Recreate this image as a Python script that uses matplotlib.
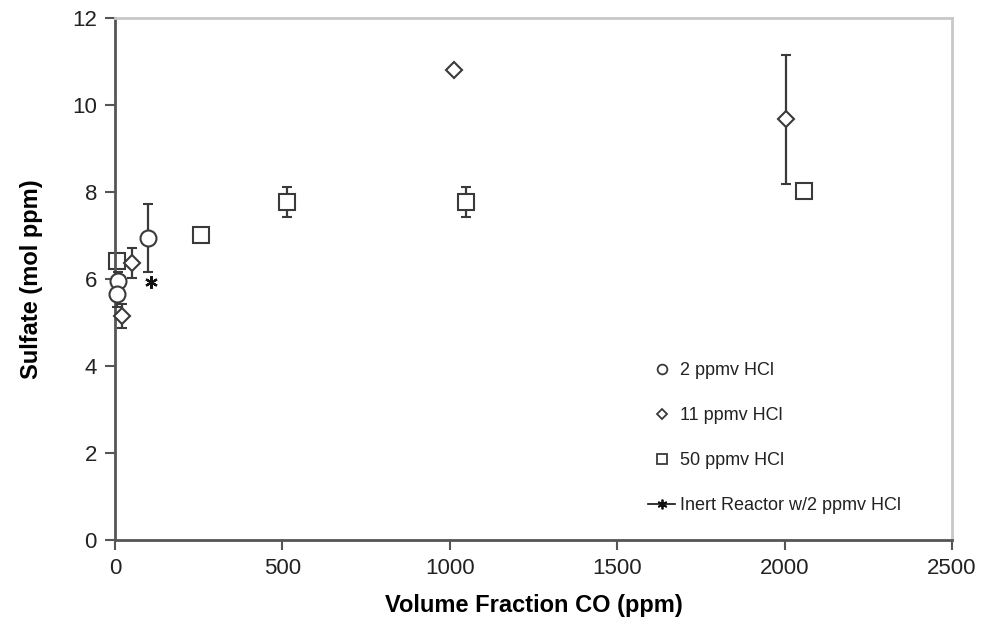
import matplotlib
matplotlib.use("Agg")
import matplotlib.pyplot as plt
from matplotlib.lines import Line2D

plt.rcParams['font.family'] = ['Liberation Sans', 'DejaVu Sans']

# Data
hcl2_x = [10, 5, 100]
hcl2_y = [5.95, 5.65, 6.95]
hcl2_err = [0.2, 0.3, 0.78]

hcl11_x = [22, 52, 1012, 2003]
hcl11_y = [5.15, 6.37, 10.8, 9.67]
hcl11_err = [0.28, 0.35, 0.0, 1.48]

hcl50_x = [5, 257, 514, 1047, 2058]
hcl50_y = [6.42, 7.02, 7.77, 7.77, 8.02]
hcl50_err = [0.0, 0.0, 0.35, 0.35, 0.0]

inert_x = [107]
inert_y = [5.92]

labels = ["2 ppmv HCl", "11 ppmv HCl", "50 ppmv HCl", "Inert Reactor w/2 ppmv HCl"]
x_ticks = [0, 500, 1000, 1500, 2000, 2500]
y_ticks = [0, 2, 4, 6, 8, 10, 12]

fig = plt.figure(figsize=(9.82, 6.2), dpi=100)
ax = fig.add_axes([115/982, 80/620, (952-115)/982, (540-18)/620])

ec = '#3a3a3a'
common = dict(linestyle='none', ecolor=ec, elinewidth=1.6, capsize=3.5, capthick=1.6,
              markerfacecolor='white', markeredgecolor=ec, markeredgewidth=1.5)


def unclip(container):
    for art in container.get_children():
        art.set_clip_on(False)


unclip(ax.errorbar(hcl2_x, hcl2_y, yerr=hcl2_err, marker='o', markersize=11.5, zorder=3, **common))
unclip(ax.errorbar(hcl11_x, hcl11_y, yerr=hcl11_err, marker='D', markersize=8, zorder=3, **common))
unclip(ax.errorbar(hcl50_x, hcl50_y, yerr=hcl50_err, marker='s', markersize=11.5, zorder=2, **common))
ax.plot(inert_x, inert_y, linestyle='none', marker=(6, 2, 0), markersize=9,
        markeredgecolor='#111111', markeredgewidth=1.6, zorder=4, clip_on=False)

ax.set_xlim(0, 2500)
ax.set_ylim(0, 12)
ax.set_xticks(x_ticks)
ax.set_yticks(y_ticks)
ax.tick_params(axis='both', direction='out', length=7, width=1.5, color='#555555',
               labelsize=16, labelcolor='#222222', pad=6)

for s in ['left', 'bottom']:
    ax.spines[s].set_color('#555555')
    ax.spines[s].set_linewidth(2)
for s in ['top', 'right']:
    ax.spines[s].set_color('#c8c8c8')
    ax.spines[s].set_linewidth(2)

ax.set_xlabel('Volume Fraction CO (ppm)', fontsize=17, fontweight='bold', labelpad=11)
ax.set_ylabel('Sulfate (mol ppm)', fontsize=17, fontweight='bold', labelpad=21)

handles = [
    Line2D([], [], linestyle='none', marker='o', markersize=7, markerfacecolor='white',
           markeredgecolor=ec, markeredgewidth=1.3),
    Line2D([], [], linestyle='none', marker='D', markersize=5, markerfacecolor='white',
           markeredgecolor=ec, markeredgewidth=1.3),
    Line2D([], [], linestyle='none', marker='s', markersize=7, markerfacecolor='white',
           markeredgecolor=ec, markeredgewidth=1.3),
    Line2D([], [], linestyle='-', color='#111111', linewidth=1.2, marker=(6, 2, 0),
           markersize=7, markeredgecolor='#111111', markeredgewidth=1.3),
]
leg = ax.legend(handles, labels, loc='lower left', bbox_to_anchor=(0.637, 0.049),
                borderaxespad=0, borderpad=0,
                frameon=False, fontsize=13, labelspacing=1.55, handlelength=1.5,
                handletextpad=0.25)
for t in leg.get_texts():
    t.set_color('#222222')

fig.savefig('out.png', dpi=100)
